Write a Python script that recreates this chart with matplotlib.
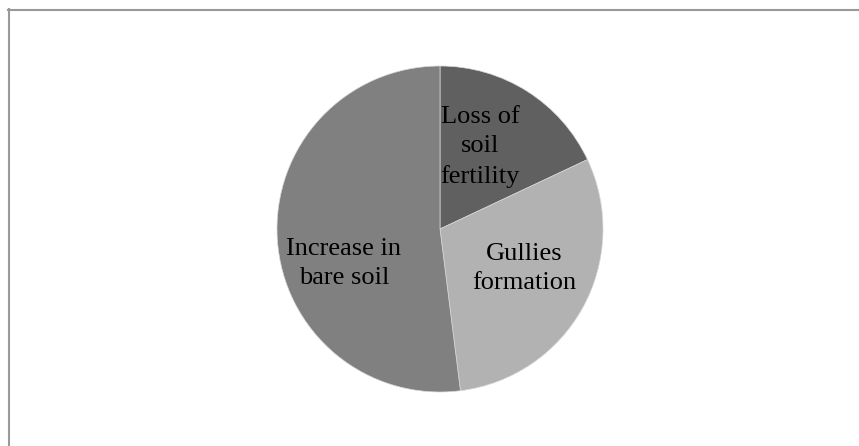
import matplotlib.pyplot as plt
from matplotlib.lines import Line2D

# Share of reported erosion impacts
categories = ['Loss of\nsoil\nfertility', 'Gullies\nformation', 'Increase in\nbare soil']
shares = [18, 30, 52]
colors = ['#606060', '#b2b2b2', '#808080']

# where each label sits inside its wedge (pie radius units)
label_pos = [(0.245, 0.505), (0.515, -0.24), (-0.59, -0.21)]

W, H, DPI = 859, 446, 100
fig = plt.figure(figsize=(W / DPI, H / DPI), dpi=DPI)

cx, cy, r = 440, 229, 163
ax = fig.add_axes([(cx - r) / W, (H - cy - r) / H, 2 * r / W, 2 * r / H])
wedges, _ = ax.pie(
    shares,
    colors=colors,
    startangle=90,
    counterclock=False,
    radius=1,
    wedgeprops={'edgecolor': '#d8d8d8', 'linewidth': 0.5},
)
ax.set_xlim(-1, 1)
ax.set_ylim(-1, 1)
ax.set_aspect('equal')
ax.axis('off')

for text, (x, y) in zip(categories, label_pos):
    ax.text(x, y, text, ha='center', va='center', multialignment='center',
            fontsize=19, family='Liberation Serif', color='black',
            linespacing=1.42)

# chart area border (runs off the right and bottom edges)
px = lambda v: v / W
py = lambda v: 1 - v / H
fig.add_artist(Line2D([px(8), px(W)], [py(9.5), py(9.5)], color='#999999', lw=1.5))
fig.add_artist(Line2D([px(9), px(9)], [py(9), py(H)], color='#999999', lw=1.5))

fig.savefig('out.png', dpi=DPI)
